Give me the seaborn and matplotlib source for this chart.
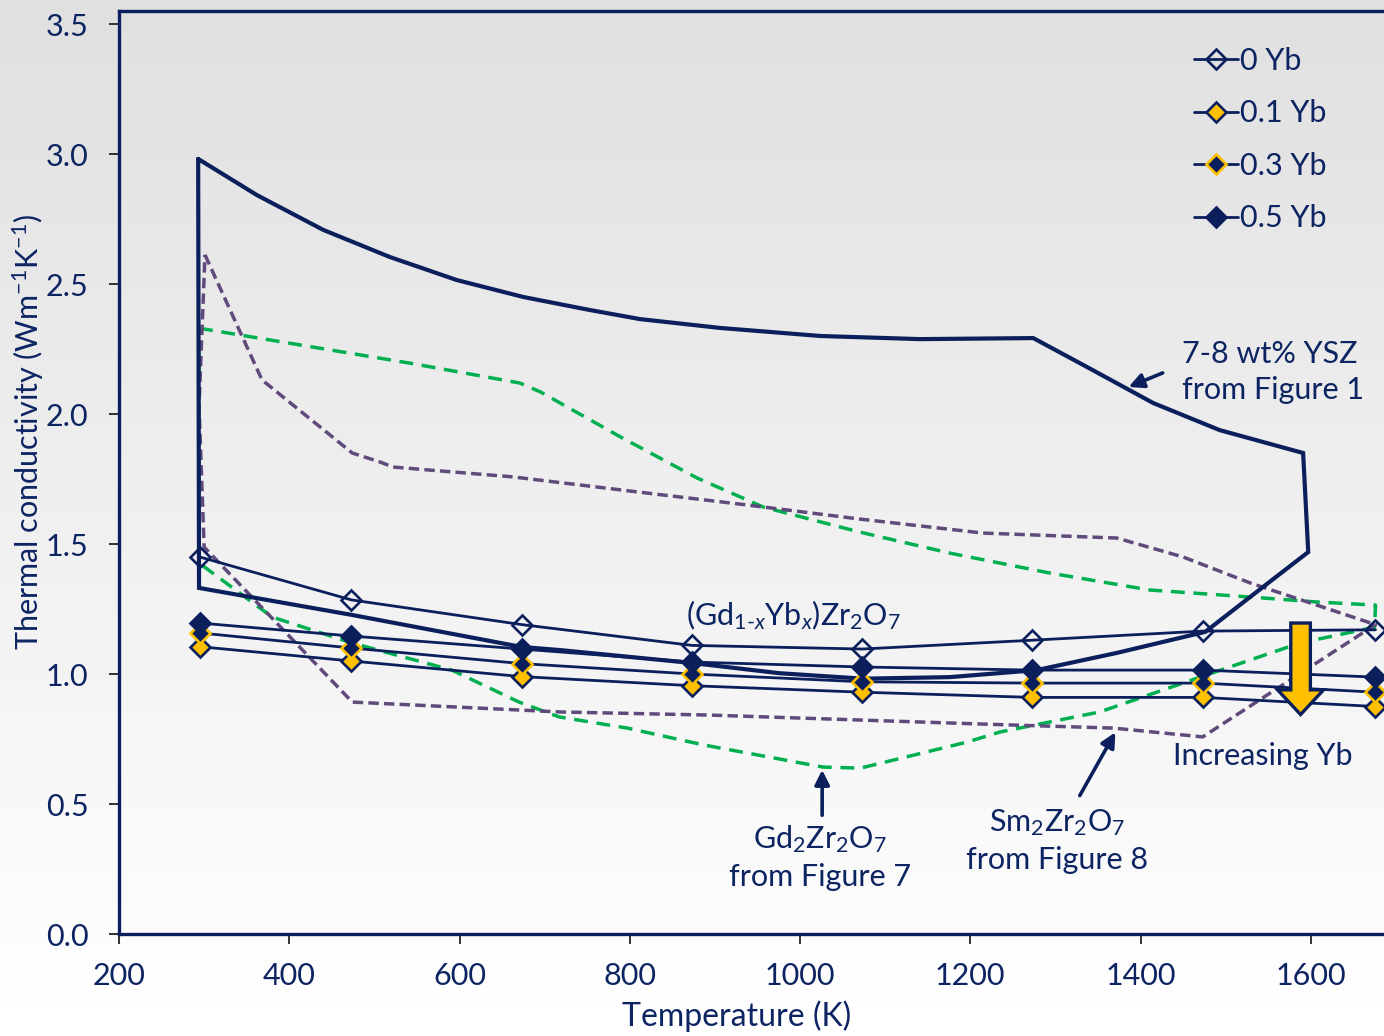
import numpy as np
import pandas as pd
import matplotlib
matplotlib.use("Agg")
import matplotlib.pyplot as plt
from matplotlib.patches import FancyArrow
import seaborn as sns

# ---------------- data ----------------
temps = [295, 473, 673, 873, 1073, 1273, 1473, 1676]
k_0yb = [1.45, 1.285, 1.19, 1.11, 1.096, 1.13, 1.165, 1.17]
k_01yb = [1.105, 1.05, 0.99, 0.955, 0.93, 0.91, 0.91, 0.875]
k_03yb = [1.158, 1.10, 1.04, 1.00, 0.97, 0.965, 0.965, 0.93]
k_05yb = [1.196, 1.146, 1.096, 1.046, 1.027, 1.015, 1.015, 0.988]
series_labels = ["0 Yb", "0.1 Yb", "0.3 Yb", "0.5 Yb"]

# 7-8 wt% YSZ envelope (closed outline)
ysz_T = [293, 362, 440, 518, 597, 675, 753, 812, 906, 1024, 1141, 1274,
         1337, 1415, 1493, 1591, 1597,
         1544, 1476, 1372, 1278, 1176, 1074, 976, 874, 718, 673, 474, 294, 293]
ysz_k = [2.981, 2.842, 2.708, 2.604, 2.515, 2.45, 2.40, 2.365, 2.331, 2.30, 2.288, 2.292,
         2.181, 2.042, 1.938, 1.85, 1.469,
         1.335, 1.162, 1.081, 1.015, 0.988, 0.982, 1.003, 1.042, 1.092, 1.104, 1.227, 1.331, 2.981]

# Gd2Zr2O7 envelope (dashed loop)
gd_T = [294, 541, 671, 695, 789, 879, 957, 1070, 1176, 1294, 1411, 1529, 1607, 1676,
        1675, 1587, 1470, 1352, 1235, 1196, 1071, 1027, 887, 797, 717, 670, 591, 474, 380,
        294, 294]
gd_k = [2.33, 2.196, 2.119, 2.085, 1.912, 1.754, 1.642, 1.546, 1.465, 1.388, 1.323, 1.296,
        1.277, 1.265,
        1.18, 1.119, 0.988, 0.854, 0.777, 0.738, 0.638, 0.642, 0.727, 0.792, 0.835, 0.892,
        1.015, 1.119, 1.219, 1.427, 2.33]

# Sm2Zr2O7 envelope (dashed loop)
sm_T = [301, 368, 474, 507, 522, 663, 820, 938, 1070, 1215, 1372, 1450, 1529, 1607, 1676,
        1473, 1368, 1247, 1070, 894, 718, 474, 300, 294, 301]
sm_k = [2.612, 2.131, 1.85, 1.815, 1.796, 1.758, 1.696, 1.65, 1.596, 1.542, 1.523, 1.45,
        1.35, 1.265, 1.19,
        0.758, 0.792, 0.804, 0.823, 0.842, 0.854, 0.892, 1.488, 2.03, 2.612]

x_ticks = [200, 400, 600, 800, 1000, 1200, 1400, 1600]
y_ticks = [0.0, 0.5, 1.0, 1.5, 2.0, 2.5, 3.0, 3.5]

# ---------------- style ----------------
sns.set_theme(style="white")
plt.rcParams['font.family'] = ['Lato', 'DejaVu Sans']
plt.rcParams['mathtext.fontset'] = 'custom'
plt.rcParams['mathtext.rm'] = 'Lato'
plt.rcParams['mathtext.it'] = 'Lato:italic'
plt.rcParams['mathtext.default'] = 'regular'

NAVY = '#0b1f5c'
TXT = '#0d2463'
YEL = '#ffc000'
GRN = '#00b050'
PUR = '#604a7b'
FS = 22

fig = plt.figure(figsize=(13.84, 10.36), dpi=100)
# background gradient over whole figure
bg = fig.add_axes([0, 0, 1, 1], zorder=-10)
grad = np.linspace(0.875, 1.0, 256).reshape(-1, 1)
bg.imshow(grad, aspect='auto', cmap='gray', vmin=0, vmax=1, extent=[0, 1, 1, 0])
bg.axis('off')

ax = fig.add_axes([119/1384, 1-934/1036, 1-119/1384, (934-11)/1036])
ax.set_facecolor('none')

# envelopes
sns.lineplot(x=ysz_T, y=ysz_k, sort=False, estimator=None, color=NAVY, lw=3.0, ax=ax,
             zorder=3)
ax.lines[-1].set_solid_joinstyle('miter')
sns.lineplot(x=gd_T, y=gd_k, sort=False, estimator=None, color=GRN, lw=2.5, ax=ax,
             zorder=2)
ax.lines[-1].set_dashes([4, 2.5])
sns.lineplot(x=sm_T, y=sm_k, sort=False, estimator=None, color=PUR, lw=2.5, ax=ax,
             zorder=2)
ax.lines[-1].set_dashes([3, 1.5])

ms = 9.8
mew = 1.9
styles = [
    dict(markerfacecolor='none', markeredgecolor=NAVY),
    dict(markerfacecolor=YEL, markeredgecolor=NAVY),
    dict(markerfacecolor=NAVY, markeredgecolor=YEL),
    dict(markerfacecolor=NAVY, markeredgecolor=NAVY),
]
handles = []
for vals, lab, st in zip([k_0yb, k_01yb, k_03yb, k_05yb], series_labels, styles):
    sns.lineplot(x=temps, y=vals, sort=False, estimator=None, color=NAVY, lw=2.0,
                 marker='D', markersize=ms, markeredgewidth=mew, ax=ax, zorder=4,
                 **st)
    h = ax.lines[-1]
    h.set_label(lab)
    handles.append(h)

ax.set_xlim(200, 1686)
ax.set_ylim(0, 3.55)
ax.set_xticks(x_ticks)
ax.set_yticks(y_ticks)
ax.set_yticklabels([f"{v:.1f}" for v in y_ticks])
ax.tick_params(axis='both', direction='out', length=7, width=1.3, color='#222222',
               labelsize=FS, labelcolor=TXT, left=True, bottom=True)
ax.tick_params(axis='x', pad=13)
ax.tick_params(axis='y', pad=15)
for s in ax.spines.values():
    s.set_color(NAVY)
    s.set_linewidth(2.4)
ax.spines['right'].set_visible(False)

ax.set_xlabel("Temperature (K)", fontsize=FS + 1, color=TXT)
ax.xaxis.set_label_coords(0.4885, -0.072)
ax.set_ylabel("Thermal conductivity (Wm$^{-1}$K$^{-1}$)", fontsize=FS, color=TXT)
ax.yaxis.set_label_coords(-0.058, 0.544)

leg = ax.legend(handles=handles, labels=series_labels, loc='upper left',
                bbox_to_anchor=(1194/1384, 1-47/1036), bbox_transform=fig.transFigure,
                borderaxespad=0, borderpad=0, frameon=False, fontsize=FS,
                labelcolor=TXT, handlelength=1.45, handletextpad=0.05,
                labelspacing=0.8)

# annotations
tk = dict(color=TXT, fontsize=FS)
ax.text(1449, 2.162, "7-8 wt% YSZ\nfrom Figure 1", ha='left', va='center',
        linespacing=1.35, **tk)
ax.annotate("", xy=(1383, 2.10), xytext=(1429, 2.162),
            arrowprops=dict(arrowstyle='-|>', color=NAVY, lw=2.6, mutation_scale=22))
ax.text(992, 1.227, "(Gd$_{1\u2010\\mathit{x}}$Yb$_{\\mathit{x}}$)Zr$_2$O$_7$",
        ha='center', va='center', **tk)
ax.text(1023, 0.296, "Gd$_2$Zr$_2$O$_7$\nfrom Figure 7", ha='center', va='center',
        linespacing=1.35, **tk)
ax.annotate("", xy=(1026, 0.642), xytext=(1026, 0.446),
            arrowprops=dict(arrowstyle='-|>', color=NAVY, lw=2.6, mutation_scale=22))
ax.text(1302, 0.36, "Sm$_2$Zr$_2$O$_7$\nfrom Figure 8", ha='center', va='center',
        linespacing=1.35, **tk)
ax.annotate("", xy=(1372, 0.785), xytext=(1327, 0.523),
            arrowprops=dict(arrowstyle='-|>', color=NAVY, lw=2.6, mutation_scale=22))
ax.text(1544, 0.685, "Increasing Yb", ha='center', va='center', **tk)

arr = FancyArrow(1588, 1.196, 0, -0.352, width=23, head_width=54, head_length=0.095,
                 length_includes_head=True, facecolor=YEL, edgecolor=NAVY, lw=2.4,
                 zorder=6)
ax.add_patch(arr)

fig.savefig("out.png", dpi=100)
